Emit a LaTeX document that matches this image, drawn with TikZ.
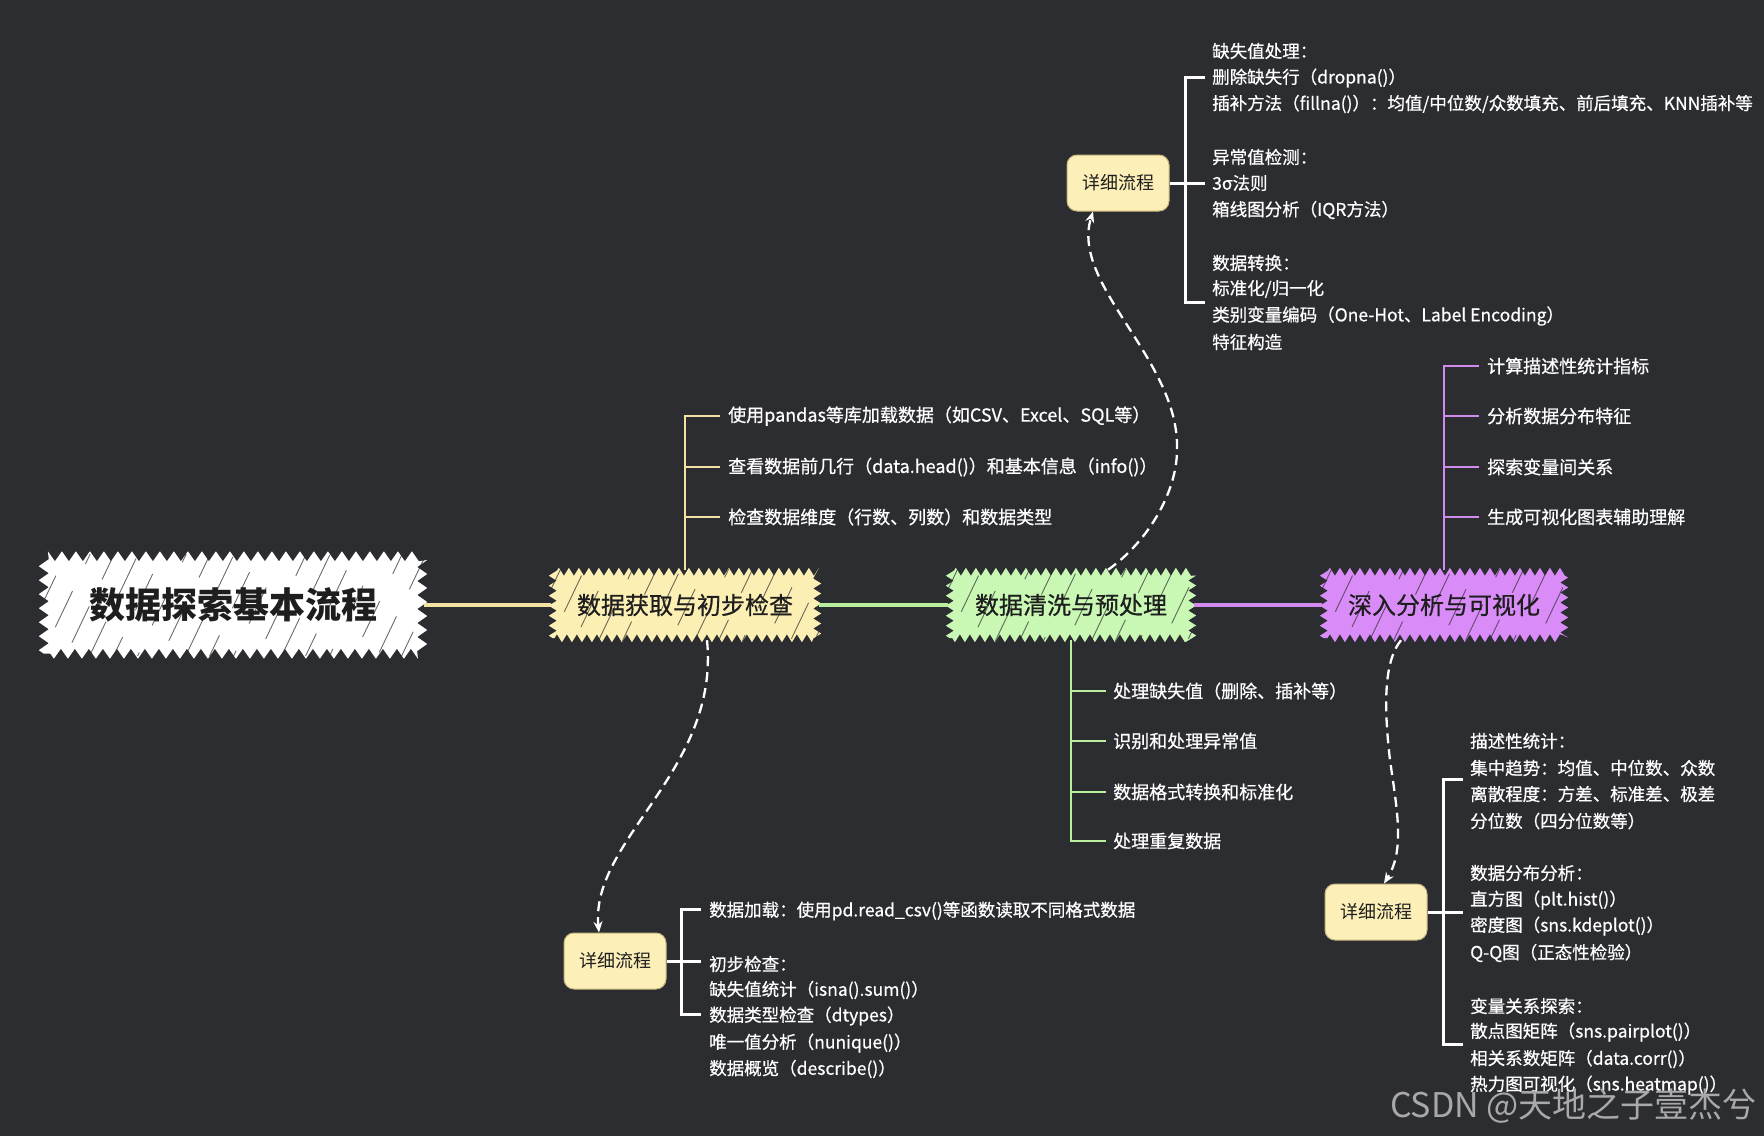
\documentclass[tikz,border=0pt]{standalone}
\usepackage{fontspec}
\setmainfont{Noto Sans CJK SC}
\newfontfamily\medfont{Noto Sans CJK SC}[FakeBold=0.6]
\usetikzlibrary{calc,decorations.pathmorphing,arrows.meta,backgrounds}
\definecolor{bgc}{HTML}{2C2D31}
\definecolor{ynode}{HTML}{FCEFB4}
\definecolor{gnode}{HTML}{C8F8B4}
\definecolor{pnode}{HTML}{D98CF7}
\definecolor{yline}{HTML}{F3E2A4}
\definecolor{gline}{HTML}{B9F0A0}
\definecolor{pline}{HTML}{D18BEF}
\definecolor{detfill}{HTML}{FCEFB8}
\definecolor{detborder}{HTML}{C9B77D}
\definecolor{txtdark}{HTML}{1E1E1E}
\definecolor{wmark}{HTML}{A9A9A9}
\newcommand\scribnode[4]{%
  \begin{scope}[on background layer]
    \fill[#2, decorate, decoration={zigzag, segment length=#3, amplitude=#4}]
      ([shift={(2,-2)}]#1.south west) rectangle ([shift={(-2,2)}]#1.north east);
    \begin{scope}
      \clip (#1.south west) rectangle (#1.north east);
      \foreach \k in {0,...,22} {
        \draw[bgc, line width=0.9pt, opacity=0.7, dash pattern=on 40pt off 30pt, dash phase=\k*17pt]
          ($(#1.south west)+(\k*24-50,4)$) -- ++(62,-130);
      }
    \end{scope}
  \end{scope}}
\tikzset{
  rootn/.style={minimum width=382pt, minimum height=101pt, inner sep=0pt, text=txtdark,
    font=\fontsize{36}{40}\selectfont\bfseries},
  mainn/.style={minimum height=70pt, inner sep=0pt, text=txtdark, font=\fontsize{24}{28}\selectfont\medfont},
  detn/.style={draw=detborder, fill=detfill, rounded corners=10pt, line width=1pt,
    minimum width=102pt, minimum height=56pt, inner sep=0pt, text=txtdark, font=\fontsize{18}{22}\selectfont},
  ltext/.style={anchor=west, inner sep=0pt, text=white, font=\fontsize{18}{22}\selectfont\medfont},
  dtext/.style={anchor=west, inner sep=0pt, text=white, font=\fontsize{17.5}{21}\selectfont\medfont},
  mainline/.style={line width=3.5pt},
  brline/.style={line width=2.5pt},
  brk/.style={draw=white, line width=3pt},
  dashline/.style={draw=white, line width=2.3pt, dash pattern=on 10pt off 6pt,
    -{Stealth[length=11pt,width=9pt]}},
}
\begin{document}
\begin{tikzpicture}[x=1pt,y=-1pt]
\begin{scope}[on background layer]
  \fill[bgc] (0,0) rectangle (1764,1136);
\end{scope}
\useasboundingbox (0,0) rectangle (1764,1136);

% main nodes
\node[rootn] (root) at (233,605) {数据探索基本流程};
\node[mainn, minimum width=268pt] (n1) at (685,605) {数据获取与初步检查};
\node[mainn, minimum width=246pt] (n2) at (1071,605) {数据清洗与预处理};
\node[mainn, minimum width=244pt] (n3) at (1444,605) {深入分析与可视化};
\scribnode{root}{white}{14pt}{5pt}
\scribnode{n1}{ynode}{10pt}{4pt}
\scribnode{n2}{gnode}{10pt}{4pt}
\scribnode{n3}{pnode}{10pt}{4pt}

\draw[mainline, yline] (root) -- (n1);
\draw[mainline, gline] (n1) -- (n2);
\draw[mainline, pline] (n2) -- (n3);

% branches of n1
\node[ltext] (b1) at (728,416) {使用pandas等库加载数据（如CSV、Excel、SQL等）};
\node[ltext] (b2) at (728,467) {查看数据前几行（data.head()）和基本信息（info()）};
\node[ltext] (b3) at (728,517) {检查数据维度（行数、列数）和数据类型};
\draw[brline, yline] (n1.north) |- ([xshift=-8pt]b1.west);
\draw[brline, yline] (n1.north |- b2.west) -- ([xshift=-8pt]b2.west);
\draw[brline, yline] (n1.north |- b3.west) -- ([xshift=-8pt]b3.west);

% branches of n2
\node[ltext] (c1) at (1113,691) {处理缺失值（删除、插补等）};
\node[ltext] (c2) at (1113,741) {识别和处理异常值};
\node[ltext] (c3) at (1113,792) {数据格式转换和标准化};
\node[ltext] (c4) at (1113,841) {处理重复数据};
\draw[brline, gline] (n2.south) |- ([xshift=-7pt]c4.west);
\draw[brline, gline] (n2.south |- c1.west) -- ([xshift=-7pt]c1.west);
\draw[brline, gline] (n2.south |- c2.west) -- ([xshift=-7pt]c2.west);
\draw[brline, gline] (n2.south |- c3.west) -- ([xshift=-7pt]c3.west);

% branches of n3
\node[ltext] (e1) at (1487,366) {计算描述性统计指标};
\node[ltext] (e2) at (1487,416) {分析数据分布特征};
\node[ltext] (e3) at (1487,467) {探索变量间关系};
\node[ltext] (e4) at (1487,517) {生成可视化图表辅助理解};
\draw[brline, pline] (n3.north) |- ([xshift=-8pt]e1.west);
\draw[brline, pline] (n3.north |- e2.west) -- ([xshift=-8pt]e2.west);
\draw[brline, pline] (n3.north |- e3.west) -- ([xshift=-8pt]e3.west);
\draw[brline, pline] (n3.north |- e4.west) -- ([xshift=-8pt]e4.west);

% detail 1 (top)
\node[detn] (dd1) at (1118,183) {详细流程};
\node[dtext] (t1) at (1212,51) {缺失值处理：};
\node[dtext] (t2) at (1212,78) {删除缺失行（dropna()）};
\node[dtext] (t3) at (1212,104) {插补方法（fillna()）：均值/中位数/众数填充、前后填充、KNN插补等};
\node[dtext] (t4) at (1212,157) {异常值检测：};
\node[dtext] (t5) at (1212,183) {3σ法则};
\node[dtext] (t6) at (1212,210) {箱线图分析（IQR方法）};
\node[dtext] (t7) at (1212,263) {数据转换：};
\node[dtext] (t8) at (1212,289) {标准化/归一化};
\node[dtext] (t9) at (1212,316) {类别变量编码（One-Hot、Label Encoding）};
\node[dtext] (t10) at (1212,342) {特征构造};
\coordinate (k1a) at (1205,77);
\coordinate (k1b) at (1205,302);
\coordinate (k1m) at (1185,183);
\coordinate (k1e) at (1205,183);
\draw[brk] (k1a) -| (k1m);
\draw[brk] (k1b) -| (k1m);
\draw[brk] (dd1.east) -- (k1e);

% detail 2 (bottom left)
\node[detn] (dd2) at (615,961) {详细流程};
\node[dtext] (s1) at (709,911) {数据加载：使用pd.read\_csv()等函数读取不同格式数据};
\node[dtext] (s2) at (709,964) {初步检查：};
\node[dtext] (s3) at (709,990) {缺失值统计（isna().sum()）};
\node[dtext] (s4) at (709,1016) {数据类型检查（dtypes）};
\node[dtext] (s5) at (709,1043) {唯一值分析（nunique()）};
\node[dtext] (s6) at (709,1069) {数据概览（describe()）};
\coordinate (k2a) at (701,909);
\coordinate (k2b) at (701,1014);
\coordinate (k2m) at (681,961);
\coordinate (k2e) at (701,961);
\draw[brk] (k2a) -| (k2m);
\draw[brk] (k2b) -| (k2m);
\draw[brk] (dd2.east) -- (k2e);

% detail 3 (bottom right)
\node[detn] (dd3) at (1376,912) {详细流程};
\node[dtext] (r1) at (1470,741) {描述性统计：};
\node[dtext] (r2) at (1470,768) {集中趋势：均值、中位数、众数};
\node[dtext] (r3) at (1470,794) {离散程度：方差、标准差、极差};
\node[dtext] (r4) at (1470,821) {分位数（四分位数等）};
\node[dtext] (r5) at (1470,873) {数据分布分析：};
\node[dtext] (r6) at (1470,900) {直方图（plt.hist()）};
\node[dtext] (r7) at (1470,926) {密度图（sns.kdeplot()）};
\node[dtext] (r8) at (1470,953) {Q-Q图（正态性检验）};
\node[dtext] (r9) at (1470,1006) {变量关系探索：};
\node[dtext] (r10) at (1470,1032) {散点图矩阵（sns.pairplot()）};
\node[dtext] (r11) at (1470,1059) {相关系数矩阵（data.corr()）};
\node[dtext] (r12) at (1470,1085) {热力图可视化（sns.heatmap()）};
\coordinate (k3a) at (1463,779);
\coordinate (k3b) at (1463,1044);
\coordinate (k3m) at (1443,912);
\coordinate (k3e) at (1463,912);
\draw[brk] (k3a) -| (k3m);
\draw[brk] (k3b) -| (k3m);
\draw[brk] (dd3.east) -- (k3e);

% dashed connectors
\draw[dashline] ([xshift=22pt]n1.south) .. controls (720,770) and (590,840) .. ([xshift=-16pt]dd2.north);
\draw[dashline] ([xshift=37pt]n2.north) .. controls (1150,540) and (1177,490) .. (1177,450)
   .. controls (1180,360) and (1070,285) .. ([xshift=-25pt]dd1.south);
\draw[dashline] ([xshift=-43pt]n3.south) .. controls (1385,660) and (1383,700) .. (1390,760)
   .. controls (1397,810) and (1405,850) .. ([xshift=8pt]dd3.north);

% watermark
\node[anchor=east, inner sep=0pt, text=wmark, font=\fontsize{34}{38}\selectfont] (wm) at (1757,1106) {CSDN @天地之子壹杰兮};
\end{tikzpicture}
\end{document}
